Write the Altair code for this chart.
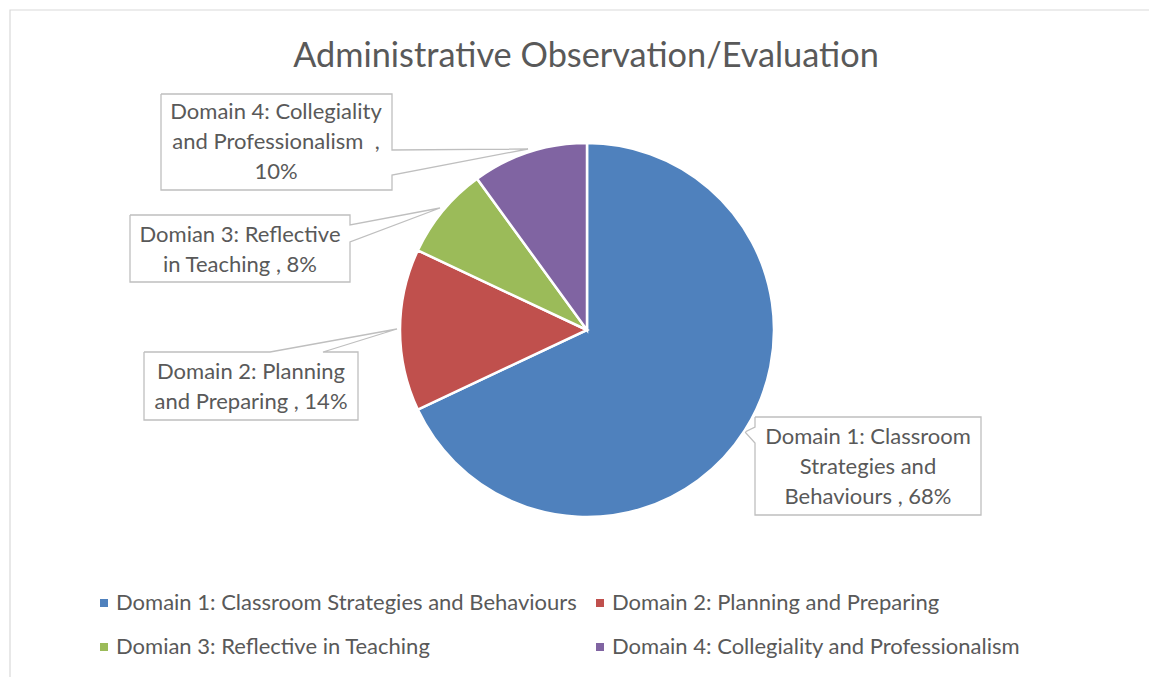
import altair as alt
import pandas as pd

# ---- data ----
categories = [
    "Domain 1: Classroom Strategies and Behaviours",
    "Domain 2: Planning and Preparing",
    "Domian 3: Reflective in Teaching",
    "Domain 4: Collegiality and Professionalism",
]
values = [68, 14, 8, 10]
colors = ["#4F81BD", "#C0504D", "#9BBB59", "#8064A2"]
title_text = "Administrative Observation/Evaluation"

# label text lines (the percentage is appended from values)
label_lines = [
    ["Domain 1: Classroom", "Strategies and", "Behaviours , {v}%"],
    ["Domain 2: Planning", "and Preparing , {v}%"],
    ["Domian 3: Reflective", "in Teaching , {v}%"],
    ["Domain 4: Collegiality", "and Professionalism\u00a0\u00a0,", "{v}%"],
]

# ---- layout (pixel positions of the callouts) ----
label_center_x = [868, 251, 240, 276]
label_first_y = [437, 372, 235, 112]
line_height = 30
callout_shapes = [
    [(755, 417), (981, 417), (981, 515), (755, 515), (755, 443), (745, 432), (755, 427), (755, 417)],
    [(144, 352), (270, 352), (397, 329), (323, 352), (358, 352), (358, 420), (144, 420), (144, 352)],
    [(130, 215), (350, 215), (350, 225), (440, 208), (350, 242), (350, 282), (130, 282), (130, 215)],
    [(161, 94), (392, 94), (392, 150), (528, 149), (392, 175), (392, 190), (161, 190), (161, 94)],
]

W, H = 1149, 677
FONT = "Lato"
GREY = "#595959"

pie_df = pd.DataFrame({"category": categories, "value": values, "order": list(range(len(values)))})

text_rows = []
for i, lines in enumerate(label_lines):
    for j, ln in enumerate(lines):
        text_rows.append({"x": label_center_x[i], "y": label_first_y[i] + j * line_height,
                          "t": ln.format(v=values[i])})
text_df = pd.DataFrame(text_rows)

shape_rows = []
for i, pts in enumerate(callout_shapes):
    for k, (px, py) in enumerate(pts):
        shape_rows.append({"g": i, "k": k, "x": px, "y": py})
shape_df = pd.DataFrame(shape_rows)

border_df = pd.DataFrame({"x": [10], "x2": [1200], "y": [10], "y2": [720]})
title_df = pd.DataFrame({"x": [586], "y": [67], "t": [title_text]})

xs = alt.Scale(domain=[0, W], range=[0, W], nice=False, zero=False)
ys = alt.Scale(domain=[0, H], range=[0, H], nice=False, zero=False)

color_scale = alt.Scale(domain=categories, range=colors)

pie = alt.Chart(pie_df).mark_arc(outerRadius=187, stroke="white", strokeWidth=2.5).encode(
    theta=alt.Theta("value:Q", stack=True),
    color=alt.Color(
        "category:N", scale=color_scale, sort=categories,
        legend=alt.Legend(
            title=None, orient="none", direction="horizontal", legendX=93, legendY=592,
            columns=2, columnPadding=12, rowPadding=22, symbolType="square", symbolSize=64,
            symbolStrokeWidth=0, labelFont=FONT, labelFontSize=22, labelColor=GREY,
            labelOffset=1, labelLimit=0, padding=0,
        ),
    ),
    order=alt.Order("order:Q"),
    x=alt.value(587),
    y=alt.value(330),
)

border = alt.Chart(border_df).mark_rect(fill=None, stroke="#D9D9D9", strokeWidth=1.2).encode(
    x=alt.X("x:Q", scale=xs, axis=None), x2="x2:Q",
    y=alt.Y("y:Q", scale=ys, axis=None), y2="y2:Q",
)

callouts = alt.Chart(shape_df).mark_line(stroke="#BFBFBF", strokeWidth=1.3).encode(
    x=alt.X("x:Q", scale=xs, axis=None),
    y=alt.Y("y:Q", scale=ys, axis=None),
    detail="g:N",
    order="k:Q",
)

labels = alt.Chart(text_df).mark_text(
    font=FONT, fontSize=22, color=GREY, align="center", baseline="middle"
).encode(
    x=alt.X("x:Q", scale=xs, axis=None),
    y=alt.Y("y:Q", scale=ys, axis=None),
    text="t:N",
)

title = alt.Chart(title_df).mark_text(
    font=FONT, fontSize=34.3, color=GREY, align="center", baseline="alphabetic"
).encode(
    x=alt.X("x:Q", scale=xs, axis=None),
    y=alt.Y("y:Q", scale=ys, axis=None),
    text="t:N",
)

chart = alt.layer(border, title, callouts, pie, labels).properties(
    width=W, height=H,
    autosize=alt.AutoSizeParams(type="none"),
    padding=0,
    background="white",
).configure_view(stroke=None)

chart.save("out.html", embed_options={"renderer": "svg", "actions": False})
